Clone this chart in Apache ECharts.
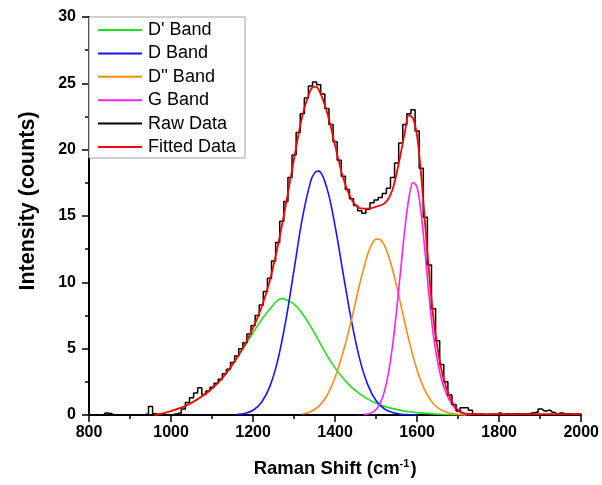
<!DOCTYPE html>
<html>
<head>
<meta charset="utf-8">
<script src="https://cdn.jsdelivr.net/npm/echarts@6/dist/echarts.min.js"></script>
<style>
html,body{margin:0;padding:0;background:#fff;}
#chart{width:602px;height:485px;}
</style>
</head>
<body>
<div id="chart"></div>
<script>
// ---- data ----
const seriesNames = ["D' Band", "D Band", "D'' Band", "G Band", "Raw Data", "Fitted Data"];

const dPrimeShift = [960,980,1000,1020,1040,1060,1080,1100,1120,1140,1160,1180,1200,1220,1240,1260,1270,1280,1300,1320,1340,1360,1380,1400,1420,1440,1460,1480,1500,1520,1540,1560,1580,1600,1620,1640,1660,1680,1700,1720];
const dPrimeBand = [0.02,0.12,0.3,0.5,0.75,1.1,1.5,2.0,2.6,3.35,4.25,5.2,6.2,7.15,7.95,8.65,8.77,8.68,8.35,7.65,6.7,5.6,4.5,3.55,2.75,2.1,1.6,1.2,0.88,0.65,0.48,0.35,0.25,0.18,0.12,0.08,0.05,0.03,0.02,0.01];

const dShift = [1160,1180,1200,1220,1240,1260,1280,1300,1320,1340,1350,1360,1380,1400,1420,1440,1460,1480,1500,1520,1540,1560,1580,1600];
const dBand = [0.04,0.12,0.36,0.92,2.08,4.1,7.15,10.96,14.8,17.57,18.25,18.38,17.1,14.24,10.6,7.07,4.21,2.25,1.07,0.46,0.18,0.06,0.02,0];

const ddShift = [1320,1340,1360,1380,1400,1420,1440,1460,1480,1490,1500,1510,1520,1530,1540,1550,1560,1570,1580,1590,1600,1610,1620,1630,1640,1650,1660,1680,1700,1720];
const ddBand = [0.07,0.25,0.65,1.45,2.85,4.8,7.2,9.87,12.17,12.9,13.27,13.23,12.8,12.03,10.97,9.71,8.34,6.96,5.64,4.43,3.38,2.5,1.8,1.26,0.85,0.56,0.36,0.13,0.04,0.01];

const gShift = [1470,1480,1490,1500,1510,1520,1530,1540,1550,1560,1570,1580,1590,1600,1610,1620,1630,1640,1650,1660,1670,1680,1690,1700,1710,1720,1730];
const gBand = [0.03,0.07,0.18,0.42,0.89,1.76,3.15,5.22,7.91,10.99,14.0,16.36,17.53,17.16,15.14,12.04,8.63,5.9,4.0,2.6,1.7,1.05,0.6,0.3,0.14,0.06,0.02];

const rawShift = [800,810,820,830,840,850,860,870,880,890,900,910,920,930,940,950,960,970,980,990,
  1000,1010,1020,1030,1040,1050,1060,1070,1080,1090,1100,1110,1120,1130,1140,1150,1160,1170,1180,1190,
  1200,1210,1220,1230,1240,1250,1260,1270,1280,1290,1300,1310,1320,1330,1340,1350,1360,1370,1380,1390,
  1400,1410,1420,1430,1440,1450,1460,1470,1480,1490,1500,1510,1520,1530,1540,1550,1560,1570,1580,1590,
  1600,1610,1620,1630,1640,1650,1660,1670,1680,1690,1700,1710,1720,1730,1740,1750,1760,1770,1780,1790,
  1800,1810,1820,1830,1840,1850,1860,1870,1880,1890,1900,1910,1920,1930,1940,1950,1960,1970,1980,1990,2000];
const rawIntensity = [0,0,0,0,0.15,0.12,0,0,0,0,0,0,0,0,0.05,0.65,0.1,0,0,0,
  0,0.08,0.15,0.45,0.95,1.3,1.65,2.05,1.55,1.8,2.1,2.4,2.7,3.1,3.45,3.95,4.45,5.0,5.45,6.1,
  6.75,7.5,8.3,9.3,10.3,11.6,13.0,14.6,16.1,17.9,19.6,21.3,22.7,23.9,24.8,25.1,24.9,24.2,23.1,21.9,
  20.6,19.2,18.0,17.0,16.3,15.8,15.4,15.2,15.5,16.0,16.2,16.4,16.7,17.1,17.9,19.0,20.5,21.9,22.7,23.0,
  21.4,18.6,14.9,11.3,8.0,5.6,3.8,2.5,1.5,0.8,0.3,0.55,0.55,0.35,0.05,0.05,0.05,0,0.05,0.05,
  0.15,0.05,0.1,0.05,0.1,0.1,0.05,0.1,0.15,0.2,0.45,0.3,0.35,0.2,0.1,0.15,0.1,0.1,0.05,0.1,0.05];

const fitShift = [960,980,1000,1020,1040,1060,1080,1100,1120,1140,1160,1180,1200,1220,1240,1260,1280,1300,1320,1340,1350,1360,1380,1400,1420,1440,1460,1480,1500,1520,
  1530,1540,1550,1560,1570,1580,1590,1600,1610,1620,1630,1640,1650,1660,1670,1680,1690,1700,1710,1720,1760,1840,1920,2000];
const fitIntensity = [0,0.12,0.3,0.5,0.75,1.1,1.5,2.0,2.6,3.37,4.29,5.32,6.56,8.07,10.03,12.7,15.87,19.33,22.52,24.48,24.75,24.53,22.85,20.31,17.84,16.26,15.6,15.55,15.7,15.95,
  16.3,17.0,18.2,19.7,21.3,22.6,22.35,21.0,18.0,14.2,10.4,7.2,5.0,3.3,2.15,1.3,0.75,0.38,0.18,0.1,0.07,0.06,0.06,0.06];

const xTicks = {min: 800, max: 2000, step: 200};
const yTicks = {min: 0, max: 30, step: 5};

// ---- build ----
function pairs(xs, ys) { return xs.map((x, i) => [x, ys[i]]); }

const FONT = 'Liberation Sans, Arial, sans-serif';
const colors = ['#1ee01e', '#1414ff', '#ff8a14', '#ff1eff', '#000000', '#ff0000'];

const chart = echarts.init(document.getElementById('chart'), null, {renderer: 'canvas'});

function lineSeries(name, data, color, extra) {
  return Object.assign({
    name: name, type: 'line', data: data, showSymbol: false, symbol: 'none',
    smooth: 0.35, lineStyle: {color: color, width: 1.6}, itemStyle: {color: color},
    z: 2, silent: true
  }, extra || {});
}

const axisCommon = {
  axisLine: {show: true, onZero: false, lineStyle: {color: '#000', width: 2}},
  axisTick: {show: true, inside: false, length: 7, lineStyle: {color: '#000', width: 1.5}},
  minorTick: {show: true, splitNumber: 2, length: 4, lineStyle: {color: '#000', width: 1.5}},
  splitLine: {show: false},
  minorSplitLine: {show: false}
};

const option = {
  animation: false,
  backgroundColor: '#fff',
  grid: {left: 89, right: 20, top: 17, bottom: 70, containLabel: false},
  legend: {
    show: true, selectedMode: false,
    data: seriesNames, icon: 'rect', itemWidth: 44, itemHeight: 2,
    orient: 'vertical', left: 89, top: 17, itemGap: 3.4,
    padding: [3, 9, 1, 9],
    borderColor: '#a0a0a0', borderWidth: 1, backgroundColor: '#fff',
    textStyle: {fontFamily: FONT, fontSize: 18, color: '#000', lineHeight: 20, padding: [0, 0, 0, 1]}
  },
  xAxis: Object.assign({
    type: 'value', min: xTicks.min, max: xTicks.max, interval: xTicks.step,
    axisLabel: {color: '#000', fontFamily: FONT, fontSize: 16, fontWeight: 'bold', margin: 10,
      formatter: v => String(v)},
    name: '{a|Raman Shift (cm}{b|-1}{a|)}',
    nameLocation: 'middle', nameGap: 43,
    nameTextStyle: {
      rich: {
        a: {fontFamily: FONT, fontSize: 18.5, fontWeight: 'bold', color: '#000'},
        b: {fontFamily: FONT, fontSize: 11, fontWeight: 'bold', color: '#000', padding: [0, 1, 10, 0]}
      }
    }
  }, axisCommon),
  yAxis: Object.assign({
    type: 'value', min: yTicks.min, max: yTicks.max, interval: yTicks.step,
    axisLabel: {color: '#000', fontFamily: FONT, fontSize: 16, fontWeight: 'bold', margin: 13,
      formatter: v => String(v)},
    name: 'Intensity (counts)', nameLocation: 'middle', nameGap: 50, nameRotate: 90,
    nameTextStyle: {fontFamily: FONT, fontSize: 21.5, fontWeight: 'bold', color: '#000', padding: [0, 0, 0, 30]}
  }, axisCommon),
  series: [
    lineSeries(seriesNames[0], pairs(dPrimeShift, dPrimeBand), colors[0]),
    lineSeries(seriesNames[1], pairs(dShift, dBand), colors[1]),
    lineSeries(seriesNames[2], pairs(ddShift, ddBand), colors[2]),
    lineSeries(seriesNames[3], pairs(gShift, gBand), colors[3]),
    lineSeries(seriesNames[4], pairs(rawShift, rawIntensity), colors[4], {smooth: false, step: 'middle', lineStyle: {color: colors[4], width: 1.5}, z: 3}),
    lineSeries(seriesNames[5], pairs(fitShift, fitIntensity), colors[5], {lineStyle: {color: colors[5], width: 1.8}, z: 4})
  ]
};
chart.setOption(option);
</script>
</body>
</html>
